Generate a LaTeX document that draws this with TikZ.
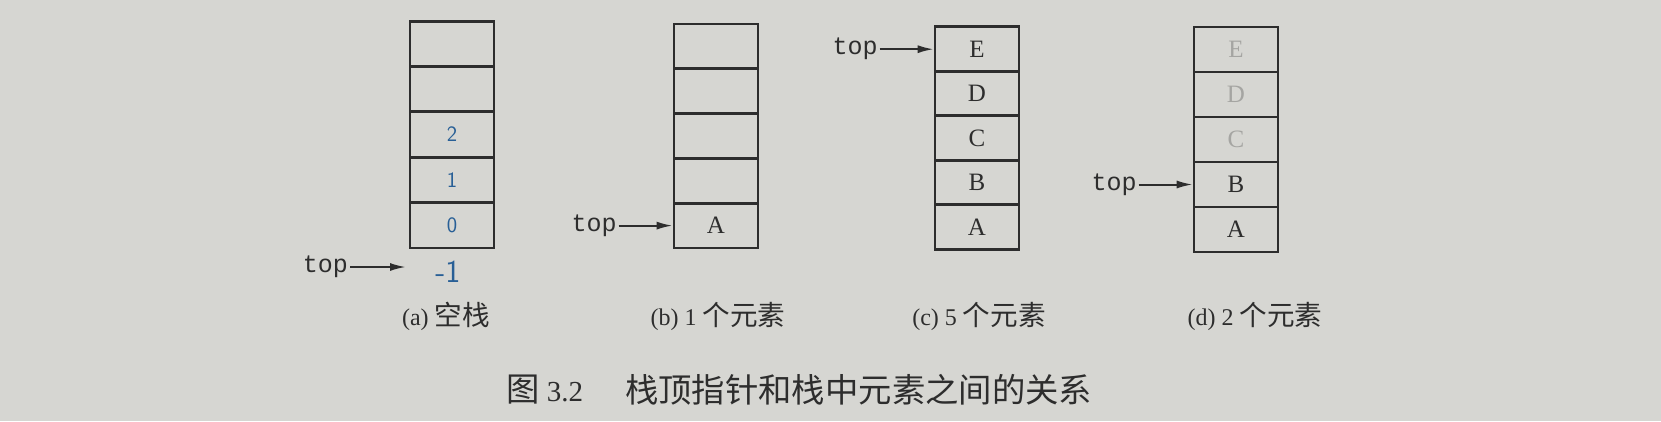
\documentclass[tikz,border=0pt]{standalone}
\usepackage{fontspec}
\setmainfont{Liberation Serif}
\setmonofont{Liberation Mono}
\newfontfamily\cjk{Noto Sans CJK SC}[Scale=1.15]
\usetikzlibrary{arrows.meta}
\usetikzlibrary{calc}
\tikzset{>=latex}
\definecolor{paper}{RGB}{214,214,210}
\definecolor{ink}{RGB}{45,45,45}
\definecolor{faint}{RGB}{165,165,162}
\definecolor{pen}{RGB}{40,95,150}
\tikzstyle{cell}=[draw=ink,line width=2.6pt,minimum width=84pt,minimum height=45pt,inner sep=0pt,text=ink,font=\fontsize{25}{25}\selectfont]
\tikzstyle{ptr}=[text=ink,inner sep=2pt,font=\ttfamily\fontsize{25}{25}\selectfont]
\tikzstyle{ptrline}=[draw=ink,line width=2pt,-{Latex[length=16pt,width=8pt]}]
\tikzstyle{subcap}=[text=ink,font=\fontsize{24}{24}\selectfont]

\begin{document}
\begin{tikzpicture}[x=1pt,y=-1pt]
  \fill[paper] (0,0) rectangle (1661,421);
  \useasboundingbox (0,0) rectangle (1661,421);

  % (a) empty stack, indices written in by hand
  \foreach \k/\v in {1/0,2/1,3/2,4/{},5/{}}
    \node[cell,text=pen,font=\sffamily\fontsize{22}{22}\selectfont] (a\k) at (452,{248-(\k-0.5)*45.4}) {\v};
  \node[ptr,anchor=east] (topa) at (350,267) {top};
  \coordinate (bela) at (406,267);
  \draw[ptrline] (topa.east) -- (bela);
  \node[text=pen,font=\sffamily\fontsize{32}{32}\selectfont] (nega) at (448,272) {-1};

  % (b) one element
  \foreach \k/\v in {1/A,2/{},3/{},4/{},5/{}}
    \node[cell] (b\k) at (716,{248-(\k-0.5)*44.8}) {\v};
  \node[ptr,anchor=east] (topb) at ($(b1.west)+(-54,0)$) {top};
  \draw[ptrline] (topb.east) -- (b1.west);

  % (c) five elements
  \foreach \k/\v in {1/A,2/B,3/C,4/D,5/E}
    \node[cell] (c\k) at (977,{249-(\k-0.5)*44.4}) {\v};
  \node[ptr,anchor=east] (topc) at ($(c5.west)+(-54,0)$) {top};
  \draw[ptrline] (topc.east) -- (c5.west);

  % (d) two elements left, popped ones greyed
  \foreach \k/\v in {1/A,2/B}
    \node[cell] (d\k) at (1236,{252-(\k-0.5)*45}) {\v};
  \foreach \k/\v in {3/C,4/D,5/E}
    \node[cell,text=faint] (d\k) at (1236,{252-(\k-0.5)*45}) {\v};
  \node[ptr,anchor=east] (topd) at ($(d2.west)+(-54,0)$) {top};
  \draw[ptrline] (topd.east) -- (d2.west);

  \node[subcap] (capa) at (446,316) {(a) {\cjk 空栈}};
  \node[subcap] (capb) at (718,316) {(b) 1 {\cjk 个元素}};
  \node[subcap] (capc) at (979,316) {(c) 5 {\cjk 个元素}};
  \node[subcap] (capd) at (1255,316) {(d) 2 {\cjk 个元素}};

  \node[text=ink,anchor=west,inner sep=0pt,font=\fontsize{29}{29}\selectfont] (fig) at (506,390) {{\cjk 图} 3.2};
  \node[text=ink,anchor=west,inner sep=0pt,font=\fontsize{29}{29}\selectfont] (title) at (625,390) {{\cjk 栈顶指针和栈中元素之间的关系}};
\end{tikzpicture}
\end{document}
